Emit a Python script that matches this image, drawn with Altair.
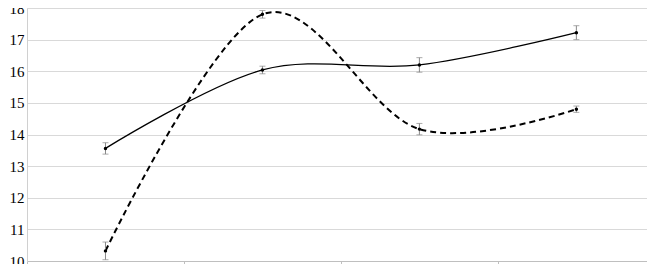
import altair as alt
import pandas as pd

# positions on the category axis (band centres)
xpos = [1, 3, 5, 7]
solid_vals = [13.56, 16.04, 16.2, 17.22]
solid_err = [0.18, 0.12, 0.23, 0.22]
dashed_vals = [10.32, 17.8, 14.17, 14.8]
dashed_err = [0.28, 0.12, 0.18, 0.1]
y_ticks = [10, 11, 12, 13, 14, 15, 16, 17, 18]
x_ticks = [0, 2, 4, 6]

rows = []
for s, vals, errs in (("A", solid_vals, solid_err), ("B", dashed_vals, dashed_err)):
    for x, v, e in zip(xpos, vals, errs):
        rows.append({"series": s, "x": x, "y": v, "lo": v - e, "hi": v + e})
df = pd.DataFrame(rows)

FONT = "Liberation Serif"

xs = alt.Scale(domain=[0, 7.9], nice=False, zero=False)
ys = alt.Scale(domain=[10, 18], nice=False, zero=False)

xaxis = alt.Axis(values=x_ticks, labels=False, title=None, grid=False,
                 domainColor="#bfbfbf", tickColor="#bfbfbf", tickSize=5)
yaxis = alt.Axis(values=y_ticks, title=None, grid=True, gridColor="#d9d9d9",
                 domainColor="#d0d0d0", ticks=False, labelPadding=3,
                 labelOverlap=False, labelFlush=False,
                 labelFont=FONT, labelFontSize=15, labelColor="#000")

base = alt.Chart(df).encode(
    x=alt.X("x:Q", scale=xs, axis=xaxis),
)

solid = base.transform_filter(alt.datum.series == "A").mark_line(
    color="#000", strokeWidth=1.3, interpolate="cardinal", tension=0
).encode(y=alt.Y("y:Q", scale=ys, axis=yaxis))

dashed = base.transform_filter(alt.datum.series == "B").mark_line(
    color="#000", strokeWidth=2, strokeDash=[6, 4], interpolate="cardinal", tension=0
).encode(y=alt.Y("y:Q", scale=ys, axis=yaxis))

err = base.mark_rule(color="#888", strokeWidth=1).encode(
    y=alt.Y("lo:Q", scale=ys, axis=yaxis), y2="hi:Q")
cap_lo = base.mark_tick(color="#888", orient="horizontal", size=6, thickness=1).encode(
    y=alt.Y("lo:Q", scale=ys, axis=yaxis))
cap_hi = base.mark_tick(color="#888", orient="horizontal", size=6, thickness=1).encode(
    y=alt.Y("hi:Q", scale=ys, axis=yaxis))
dots = base.mark_point(filled=True, color="#000", size=12, opacity=1).encode(
    y=alt.Y("y:Q", scale=ys, axis=yaxis))

chart = alt.layer(solid, dashed, err, cap_lo, cap_hi, dots).properties(
    width=620, height=253,
    autosize=alt.AutoSizeParams(type="none"),
    padding={"left": 19, "top": 0, "right": 0, "bottom": 3},
    background="white",
).configure_view(stroke=None).configure(font=FONT).configure_axisY(
    values=y_ticks, labelFont=FONT, labelFontSize=15, labelColor="#000",
    labelPadding=3, ticks=False, labelOverlap=False, gridColor="#d9d9d9",
    domainColor="#d0d0d0", title=None
).configure_axisX(
    labels=False, grid=False, domainColor="#bfbfbf", tickColor="#bfbfbf", tickSize=5, title=None
)

chart.save("out.html", embed_options={"renderer": "svg", "actions": False})
